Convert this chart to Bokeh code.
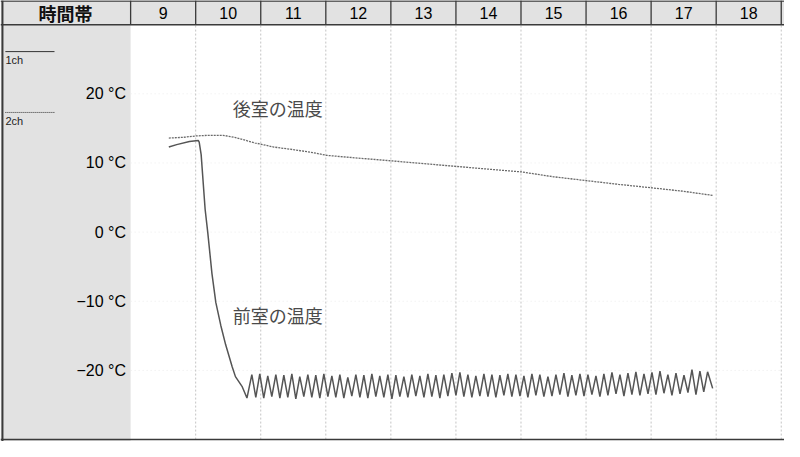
from bokeh.plotting import figure
from bokeh.models import Range1d
from bokeh.embed import file_html
from bokeh.resources import INLINE
from bokeh.core.properties import value

# ---------------- data ----------------
hours = [9, 10, 11, 12, 13, 14, 15, 16, 17, 18]
hour_labels = ["9", "10", "11", "12", "13", "14", "15", "16", "17", "18"]
y_ticks = [20, 10, 0, -10, -20]
y_tick_labels = ["20 °C", "10 °C", "0 °C", "−10 °C", "−20 °C"]

# 後室 (2ch, dotted)
rear_t = [9.587, 9.8, 10.0, 10.2, 10.42, 10.6, 10.91, 11.2, 11.52, 11.8, 12.01, 12.5,
          13.02, 13.5, 14.0, 14.5, 15.01, 15.5, 16.0, 16.5, 17.01, 17.5, 17.95]
rear_v = [13.6, 13.7, 13.9, 14.0, 14.0, 13.7, 12.9, 12.3, 11.9, 11.5, 11.1, 10.7,
          10.3, 9.9, 9.5, 9.1, 8.7, 8.0, 7.45, 6.9, 6.4, 5.9, 5.3]

# 前室 (1ch, solid): start and pull-down
front_drop_t = [9.587, 9.708, 9.904, 10.039, 10.054, 10.084, 10.145, 10.185, 10.25,
                10.31, 10.386, 10.461, 10.562, 10.611, 10.712, 10.788]
front_drop_v = [12.3, 12.65, 13.1, 13.25, 13.0, 11.2, 3.3, 0.0, -6.0,
                -10.2, -13.5, -16.3, -19.5, -20.9, -22.3, -24.0]

# 前室: cycling peaks and troughs
peak_t = [10.863, 10.985, 11.108, 11.232, 11.355, 11.478, 11.600, 11.724, 11.846, 11.970,
          12.093, 12.216, 12.338, 12.462, 12.585, 12.708, 12.830, 12.954, 13.077, 13.200,
          13.322, 13.446, 13.569, 13.692, 13.814, 13.938, 14.061, 14.184, 14.306, 14.430,
          14.553, 14.676, 14.798, 14.922, 15.045, 15.168, 15.290, 15.414, 15.537, 15.660,
          15.782, 15.906, 16.029, 16.152, 16.274, 16.398, 16.521, 16.644, 16.766, 16.890,
          17.013, 17.136, 17.258, 17.382, 17.505, 17.628, 17.750, 17.868]
peak_v = [-20.6, -20.5, -20.8, -20.6, -20.7, -20.5, -20.9, -20.6, -20.7, -20.5,
          -20.8, -20.6, -21.0, -20.6, -20.7, -20.5, -20.8, -20.6, -20.7, -20.9,
          -20.6, -20.8, -20.5, -20.7, -20.6, -20.4, -20.3, -20.6, -20.8, -20.5,
          -20.6, -20.7, -20.5, -20.6, -20.8, -20.5, -20.6, -20.9, -20.6, -20.4,
          -20.7, -20.5, -20.6, -20.8, -20.5, -20.3, -20.6, -20.4, -20.2, -20.5,
          -20.3, -20.1, -20.6, -20.4, -20.7, -19.9, -20.1, -20.2]
trough_t = [10.924, 11.046, 11.170, 11.294, 11.416, 11.539, 11.662, 11.785, 11.908, 12.032,
            12.154, 12.277, 12.400, 12.524, 12.646, 12.769, 12.892, 13.016, 13.138, 13.261,
            13.384, 13.508, 13.630, 13.753, 13.876, 14.000, 14.122, 14.245, 14.368, 14.492,
            14.614, 14.737, 14.860, 14.984, 15.106, 15.229, 15.352, 15.476, 15.598, 15.721,
            15.844, 15.968, 16.090, 16.213, 16.336, 16.460, 16.582, 16.705, 16.828, 16.952,
            17.074, 17.197, 17.320, 17.444, 17.566, 17.689, 17.809]
trough_v = [-23.9, -24.0, -23.8, -24.0, -23.9, -24.1, -23.8, -23.9, -24.0, -23.8,
            -23.9, -24.0, -23.7, -23.9, -24.0, -23.8, -23.9, -24.1, -23.8, -23.9,
            -23.7, -23.9, -23.8, -24.0, -23.7, -23.6, -23.8, -23.9, -23.7, -23.8,
            -23.9, -23.6, -23.8, -23.7, -23.9, -23.6, -23.8, -23.7, -23.5, -23.8,
            -23.6, -23.7, -23.5, -23.8, -23.6, -23.4, -23.7, -23.5, -23.6, -23.4,
            -23.5, -23.3, -23.6, -23.4, -23.2, -23.5, -23.1]
front_end_t = [17.946]
front_end_v = [-22.6]

front_t = list(front_drop_t)
front_v = list(front_drop_v)
for i in range(len(peak_t)):
    front_t.append(peak_t[i]); front_v.append(peak_v[i])
    if i < len(trough_t):
        front_t.append(trough_t[i]); front_v.append(trough_v[i])
front_t += front_end_t
front_v += front_end_v

# ---------------- layout ----------------
X0, X1 = 7.0, 19.05
Y0, Y1 = -30.28, 33.49
T_MIN, T_MAX = -30, 30
H_END = 19

p = figure(width=784, height=441, output_backend="svg", toolbar_location=None,
           x_range=Range1d(X0, X1), y_range=Range1d(Y0, Y1),
           x_axis_location=None, y_axis_location=None, min_border=0)
p.outline_line_color = None
p.grid.visible = False
p.background_fill_color = "white"
p.border_fill_color = "white"

PANEL = "#e2e2e2"
EDGE = "#3a3a3a"

# left panel and header background
p.quad(left=[X0], right=[hours[0]], bottom=[Y0], top=[Y1], fill_color=PANEL, line_color=None)
p.quad(left=[hours[0]], right=[X1], bottom=[T_MAX], top=[Y1], fill_color=PANEL, line_color=None)

# horizontal faint grid
p.segment(x0=[hours[0]] * len(y_ticks), y0=y_ticks, x1=[H_END] * len(y_ticks), y1=y_ticks,
          line_color="#ececec", line_width=1, line_dash="1 3")
# vertical dotted grid
grid_x = hours[1:] + [H_END]
p.segment(x0=grid_x, y0=[T_MIN] * len(grid_x), x1=grid_x, y1=[T_MAX] * len(grid_x),
          line_color="#c4c4c4", line_width=1, line_dash="2 2")

# header dividers
div_x = hours + [H_END]
p.segment(x0=div_x, y0=[T_MAX] * len(div_x), x1=div_x, y1=[Y1] * len(div_x),
          line_color=EDGE, line_width=1.3)
p.segment(x0=[X0, X0], y0=[T_MAX, Y1 - 0.08], x1=[X1, X1], y1=[T_MAX, Y1 - 0.08],
          line_color=EDGE, line_width=1.5)
# outer frame of the left panel and bottom
p.segment(x0=[X0 + 0.03], y0=[Y0], x1=[X0 + 0.03], y1=[Y1], line_color=EDGE, line_width=2)
p.segment(x0=[X0], y0=[T_MIN], x1=[X1], y1=[T_MIN], line_color=EDGE, line_width=1.5)

# header texts
p.text(x=[(X0 + hours[0]) / 2], y=[(T_MAX + Y1) / 2], text=["時間帯"],
       text_font=value("Noto Sans CJK JP"), text_font_size="18px", text_font_style="bold",
       text_color="#111111", text_align="center", text_baseline="middle")
p.text(x=[h + 0.5 for h in hours], y=[(T_MAX + Y1) / 2] * len(hours), text=hour_labels,
       text_font=value("Liberation Sans"), text_font_size="16px",
       text_color="#000000", text_align="center", text_baseline="middle")

# y tick labels in the left panel
p.text(x=[8.93] * len(y_ticks), y=y_ticks, text=y_tick_labels,
       text_font=value("Liberation Sans"), text_font_size="16px",
       text_color="#000000", text_align="right", text_baseline="middle")

# channel key
p.segment(x0=[7.075], y0=[26.1], x1=[7.83], y1=[26.1], line_color="#333333", line_width=1)
p.segment(x0=[7.075], y0=[17.3], x1=[7.83], y1=[17.3], line_color="#333333", line_width=1,
          line_dash="1 1")
p.text(x=[7.075, 7.075], y=[24.85, 16.05], text=["1ch", "2ch"],
       text_font=value("Liberation Sans"), text_font_size="11px",
       text_color="#222222", text_align="left", text_baseline="middle")

# curves
p.line(rear_t, rear_v, line_color="#6a6a6a", line_width=1.3, line_dash="2 1")
p.line(front_t, front_v, line_color="#555555", line_width=1.5)

# curve labels
p.text(x=[10.57, 10.57], y=[17.9, -12.0], text=["後室の温度", "前室の温度"],
       text_font=value("Noto Sans CJK JP"), text_font_size="18px",
       text_color="#4a4a4a", text_align="left", text_baseline="middle")

open("out.html", "w").write(file_html(p, INLINE))
